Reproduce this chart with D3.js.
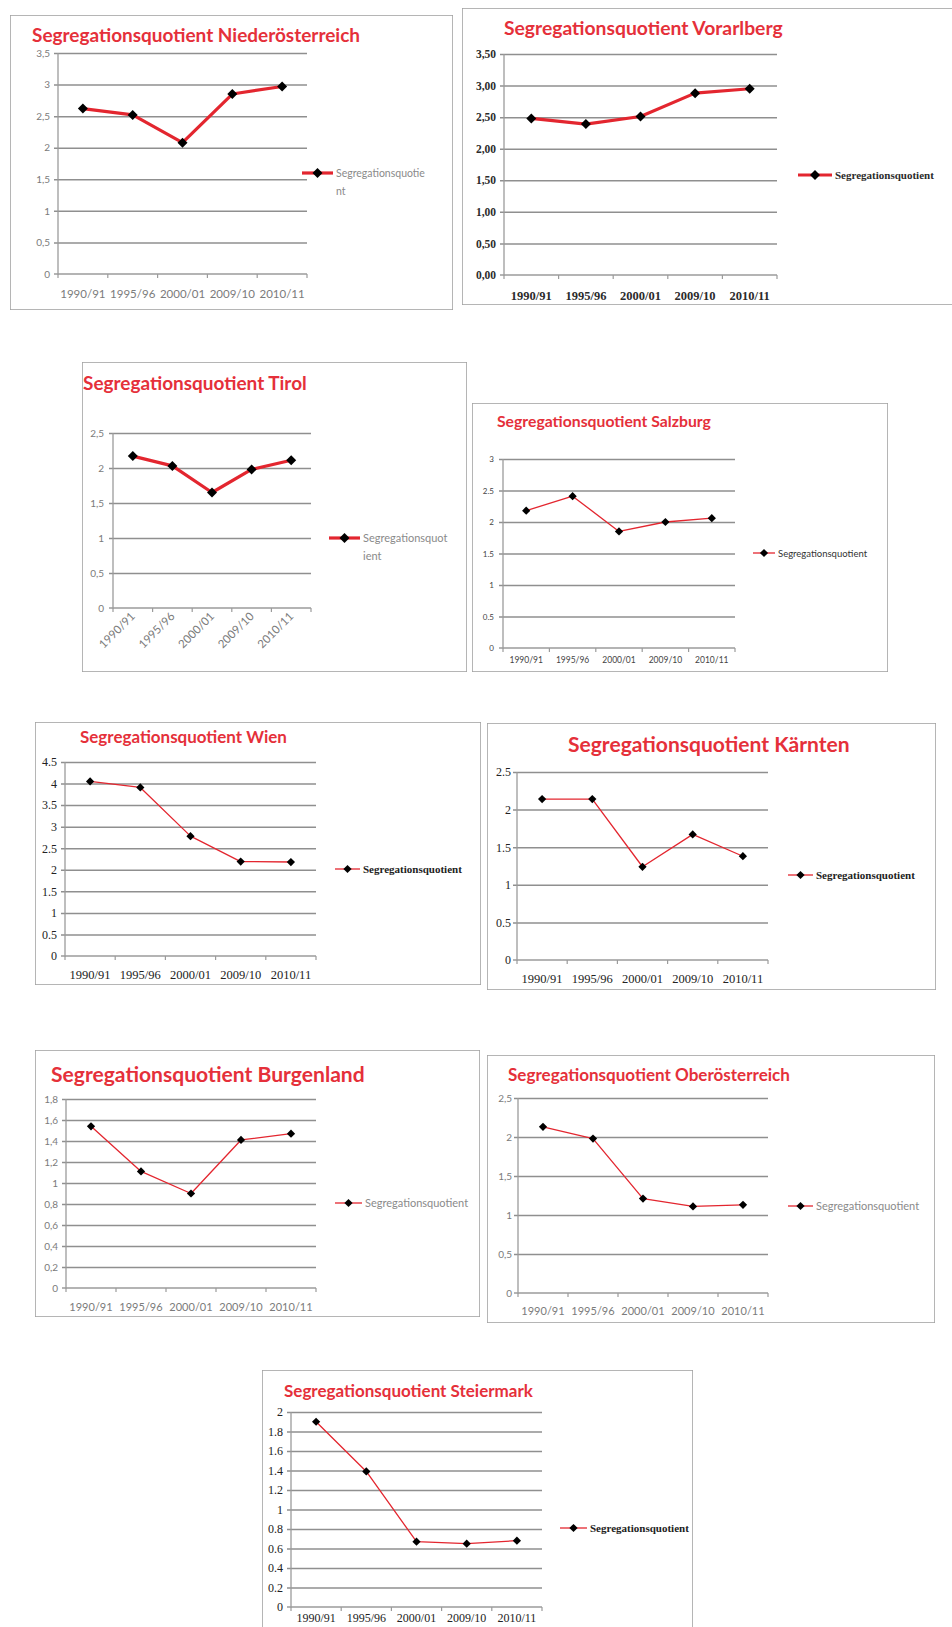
<!DOCTYPE html>
<html>
<head>
<meta charset="utf-8">
<script src="https://cdn.jsdelivr.net/npm/d3@7"></script>
<style>
  body { margin: 0; background: #fff; }
  svg { display: block; }
</style>
</head>
<body>
<svg id="chart" width="952" height="1627"></svg>
<script>
// School years shown on every chart
const periods = ["1990/91", "1995/96", "2000/01", "2009/10", "2010/11"];

// Segregation quotient per federal state
const niederoesterreich = [2.62, 2.52, 2.08, 2.85, 2.97];
const vorarlberg        = [2.48, 2.39, 2.51, 2.88, 2.95];
const tirol             = [2.17, 2.03, 1.65, 1.98, 2.11];
const salzburg          = [2.18, 2.41, 1.85, 2.00, 2.06];
const wien              = [4.05, 3.91, 2.78, 2.19, 2.18];
const kaernten          = [2.14, 2.14, 1.24, 1.67, 1.38];
const burgenland        = [1.54, 1.11, 0.90, 1.41, 1.47];
const oberoesterreich   = [2.13, 1.98, 1.21, 1.11, 1.13];
const steiermark        = [1.90, 1.39, 0.67, 0.65, 0.68];

// Value-axis ticks
const ticks35 = [0, 0.5, 1, 1.5, 2, 2.5, 3, 3.5];
const ticks30 = [0, 0.5, 1, 1.5, 2, 2.5, 3];
const ticks25 = [0, 0.5, 1, 1.5, 2, 2.5];
const ticks45 = [0, 0.5, 1, 1.5, 2, 2.5, 3, 3.5, 4, 4.5];
const ticks18 = [0, 0.2, 0.4, 0.6, 0.8, 1, 1.2, 1.4, 1.6, 1.8];
const ticks20 = [0, 0.2, 0.4, 0.6, 0.8, 1, 1.2, 1.4, 1.6, 1.8, 2];

const seriesName = "Segregationsquotient";

// Tick label formats
const commaFmt = d => String(d).replace(".", ",");
const pointFmt = d => String(d);
const twoDecComma = d => d3.format(".2f")(d).replace(".", ",");

const RED = "#e3262f";
const TITLE_RED = "#e5303a";

// Label styles
const greySans   = { font: "Lato", size: 10, color: "#7b7b7b", weight: 400 };
const darkSerif  = { font: "Liberation Serif", size: 12, color: "#222", weight: 400 };
const boldSerif  = { font: "Liberation Serif", size: 11.5, color: "#2b2b2b", weight: 700 };
const tinySans   = { font: "Lato", size: 8, color: "#444", weight: 400 };

const panels = [
  { title: "Segregationsquotient Niederösterreich", values: niederoesterreich, ticks: ticks35, fmt: commaFmt,
    frame: [10, 15, 443, 295], titlePos: [32, 42, 328], plot: [58, 307, 53, 274], yMax: 3.5,
    thick: true, lab: greySans, labX: 50, xLabY: 298, xLabSize: 11.5,
    legend: [302, 333, 173], legendLines: ["Segregationsquotie", "nt"], legFont: { font: "Lato", size: 10.5, color: "#8a8a8a", weight: 400 } },
  { title: "Segregationsquotient Vorarlberg", values: vorarlberg, ticks: ticks35, fmt: twoDecComma,
    frame: [462, 8, 510, 297], titlePos: [504, 35, 279], plot: [504, 777, 54, 275], yMax: 3.5,
    thick: true, lab: boldSerif, labX: 496, xLabY: 300, xLabSize: 12.5,
    legend: [798, 832, 175], legendLines: [seriesName], legFont: { font: "Liberation Serif", size: 11, color: "#2b2b2b", weight: 700 } },
  { title: "Segregationsquotient Tirol", values: tirol, ticks: ticks25, fmt: commaFmt,
    frame: [82, 362, 385, 310], titlePos: [83, 390, 224], plot: [113, 311, 433, 608], yMax: 2.5,
    thick: true, lab: greySans, labX: 104, rotate: true, xLabSize: 11.5,
    legend: [329, 360, 538], legendLines: ["Segregationsquot", "ient"], legFont: { font: "Lato", size: 11, color: "#8a8a8a", weight: 400 } },
  { title: "Segregationsquotient Salzburg", values: salzburg, ticks: ticks30, fmt: pointFmt,
    frame: [472, 403, 416, 269], titlePos: [497, 427, 214], plot: [503, 735, 459, 648], yMax: 3,
    thick: false, lab: tinySans, labX: 494, xLabY: 663, xLabSize: 8.5,
    legend: [753, 775, 553], legendLines: [seriesName], legFont: { font: "Lato", size: 9.5, color: "#333", weight: 400 } },
  { title: "Segregationsquotient Wien", values: wien, ticks: ticks45, fmt: pointFmt,
    frame: [35, 722, 446, 263], titlePos: [80, 743, 207], plot: [65, 316, 762, 956], yMax: 4.5,
    thick: false, lab: darkSerif, labX: 57, xLabY: 979, xLabSize: 12.5,
    legend: [335, 360, 869], legendLines: [seriesName], legFont: { font: "Liberation Serif", size: 11, color: "#222", weight: 700 } },
  { title: "Segregationsquotient Kärnten", values: kaernten, ticks: ticks25, fmt: pointFmt,
    frame: [487, 723, 449, 267], titlePos: [568, 752, 282], plot: [517, 768, 772, 960], yMax: 2.5,
    thick: false, lab: darkSerif, labX: 511, xLabY: 983, xLabSize: 12.5,
    legend: [788, 813, 875], legendLines: [seriesName], legFont: { font: "Liberation Serif", size: 11, color: "#222", weight: 700 } },
  { title: "Segregationsquotient Burgenland", values: burgenland, ticks: ticks18, fmt: commaFmt,
    frame: [35, 1050, 445, 267], titlePos: [51, 1082, 314], plot: [66, 316, 1099, 1288], yMax: 1.8,
    thick: false, lab: greySans, labX: 58, xLabY: 1311, xLabSize: 11,
    legend: [335, 362, 1203], legendLines: [seriesName], legFont: { font: "Lato", size: 11, color: "#8a8a8a", weight: 400 } },
  { title: "Segregationsquotient Oberösterreich", values: oberoesterreich, ticks: ticks25, fmt: commaFmt,
    frame: [487, 1055, 448, 268], titlePos: [508, 1081, 282], plot: [518, 768, 1098, 1293], yMax: 2.5,
    thick: false, lab: greySans, labX: 512, xLabY: 1315, xLabSize: 11,
    legend: [788, 813, 1206], legendLines: [seriesName], legFont: { font: "Lato", size: 11, color: "#8a8a8a", weight: 400 } },
  { title: "Segregationsquotient Steiermark", values: steiermark, ticks: ticks20, fmt: pointFmt,
    frame: [262, 1370, 431, 300], titlePos: [284, 1397, 249], plot: [291, 542, 1412, 1607], yMax: 2,
    thick: false, lab: darkSerif, labX: 283, xLabY: 1622, xLabSize: 12,
    legend: [560, 587, 1528], legendLines: [seriesName], legFont: { font: "Liberation Serif", size: 11, color: "#222", weight: 700 } }
];

const svg = d3.select("#chart");
const defs = svg.append("defs");

function styleText(sel, f, size) {
  return sel.attr("font-family", f.font)
    .attr("font-size", size || f.size)
    .attr("font-weight", f.weight)
    .attr("fill", f.color);
}

function marker(size) {
  return d3.symbol().type(d3.symbolSquare).size(size)();
}

panels.forEach((p, i) => {
  const [fx, fy, fw, fh] = p.frame;
  const clipId = "panel-clip-" + i;
  defs.append("clipPath").attr("id", clipId)
    .append("rect").attr("x", fx).attr("y", fy).attr("width", fw).attr("height", fh);

  const g = svg.append("g").attr("clip-path", `url(#${clipId})`);

  // Chart area border
  g.append("rect")
    .attr("x", fx).attr("y", fy).attr("width", fw).attr("height", fh)
    .attr("fill", "#fff").attr("stroke", "#a3a3a3").attr("stroke-width", 1.6);

  // Title, sized to its line
  const [tx, ty, tw] = p.titlePos;
  const title = g.append("text")
    .attr("x", tx).attr("y", ty)
    .attr("font-family", "Lato").attr("font-weight", 700)
    .attr("font-size", 16).attr("fill", TITLE_RED)
    .text(p.title);
  const len = title.node().getComputedTextLength();
  title.attr("font-size", 16 * tw / len);

  const [x0, x1, yTop, yBottom] = p.plot;
  const x = d3.scaleBand().domain(periods).range([x0, x1]);
  const y = d3.scaleLinear().domain([0, p.yMax]).range([yBottom, yTop]);
  const bw = x.bandwidth();
  const cx = d => x(d) + bw / 2;

  // Horizontal gridlines with short outer ticks
  const grid = g.append("g")
    .attr("transform", `translate(${x0 - 4},0)`)
    .call(d3.axisLeft(y).tickValues(p.ticks.filter(t => t > 0))
      .tickSize(-(x1 - x0 + 4)).tickFormat(""));
  grid.select(".domain").remove();
  grid.selectAll(".tick line").attr("stroke", "#8f8f8f").attr("stroke-width", 1.5);

  // Value labels
  const yLab = g.append("g")
    .attr("transform", `translate(${x0},0)`)
    .call(d3.axisLeft(y).tickValues(p.ticks).tickFormat(p.fmt)
      .tickSize(0).tickPadding(x0 - p.labX));
  yLab.select(".domain").remove();
  styleText(yLab.selectAll("text"), p.lab);

  // Value axis line
  g.append("line")
    .attr("x1", x0).attr("x2", x0).attr("y1", yTop).attr("y2", yBottom + 0.5)
    .attr("stroke", "#9b9b9b").attr("stroke-width", 1.3);
  // Category axis line with ticks between the categories
  g.append("line")
    .attr("x1", x0 - 4).attr("x2", x1).attr("y1", yBottom).attr("y2", yBottom)
    .attr("stroke", "#9b9b9b").attr("stroke-width", 1.3);
  const bounds = periods.map(d => x(d)).concat([x.range()[1]]);
  g.selectAll(null).data(bounds).join("line")
    .attr("x1", d => d).attr("x2", d => d)
    .attr("y1", yBottom).attr("y2", yBottom + 4)
    .attr("stroke", "#9b9b9b").attr("stroke-width", 1.2);

  // Category labels
  if (p.rotate) {
    g.selectAll(null).data(periods).join("text")
      .attr("text-anchor", "end")
      .attr("transform", d => `translate(${cx(d) + 3},${yBottom + 9}) rotate(-45)`)
      .call(s => styleText(s, p.lab, p.xLabSize))
      .text(d => d);
  } else {
    g.selectAll(null).data(periods).join("text")
      .attr("x", cx).attr("y", p.xLabY)
      .attr("text-anchor", "middle")
      .call(s => styleText(s, p.lab, p.xLabSize))
      .text(d => d);
  }

  // Series line and markers
  const lw = p.thick ? 3.2 : 1.3;
  const ms = p.thick ? 50 : 34;
  const line = d3.line().x((d, k) => cx(periods[k])).y(d => y(d));
  g.append("path")
    .datum(p.values)
    .attr("d", line)
    .attr("fill", "none").attr("stroke", RED)
    .attr("stroke-width", lw).attr("stroke-linejoin", "round");
  g.selectAll(null).data(p.values).join("path")
    .attr("d", marker(ms))
    .attr("transform", (d, k) => `translate(${cx(periods[k])},${y(d)}) rotate(45)`)
    .attr("fill", "#000");

  // Legend
  const [lx0, lx1, ly] = p.legend;
  g.append("line")
    .attr("x1", lx0).attr("x2", lx1).attr("y1", ly).attr("y2", ly)
    .attr("stroke", RED).attr("stroke-width", lw);
  g.append("path")
    .attr("d", marker(ms))
    .attr("transform", `translate(${(lx0 + lx1) / 2},${ly}) rotate(45)`)
    .attr("fill", "#000");
  const lt = g.append("text")
    .attr("x", lx1 + 3).attr("y", ly + 3.5)
    .call(s => styleText(s, p.legFont));
  p.legendLines.forEach((t, k) => {
    lt.append("tspan").attr("x", lx1 + 3).attr("dy", k === 0 ? 0 : 18).text(t);
  });
});
</script>
</body>
</html>
